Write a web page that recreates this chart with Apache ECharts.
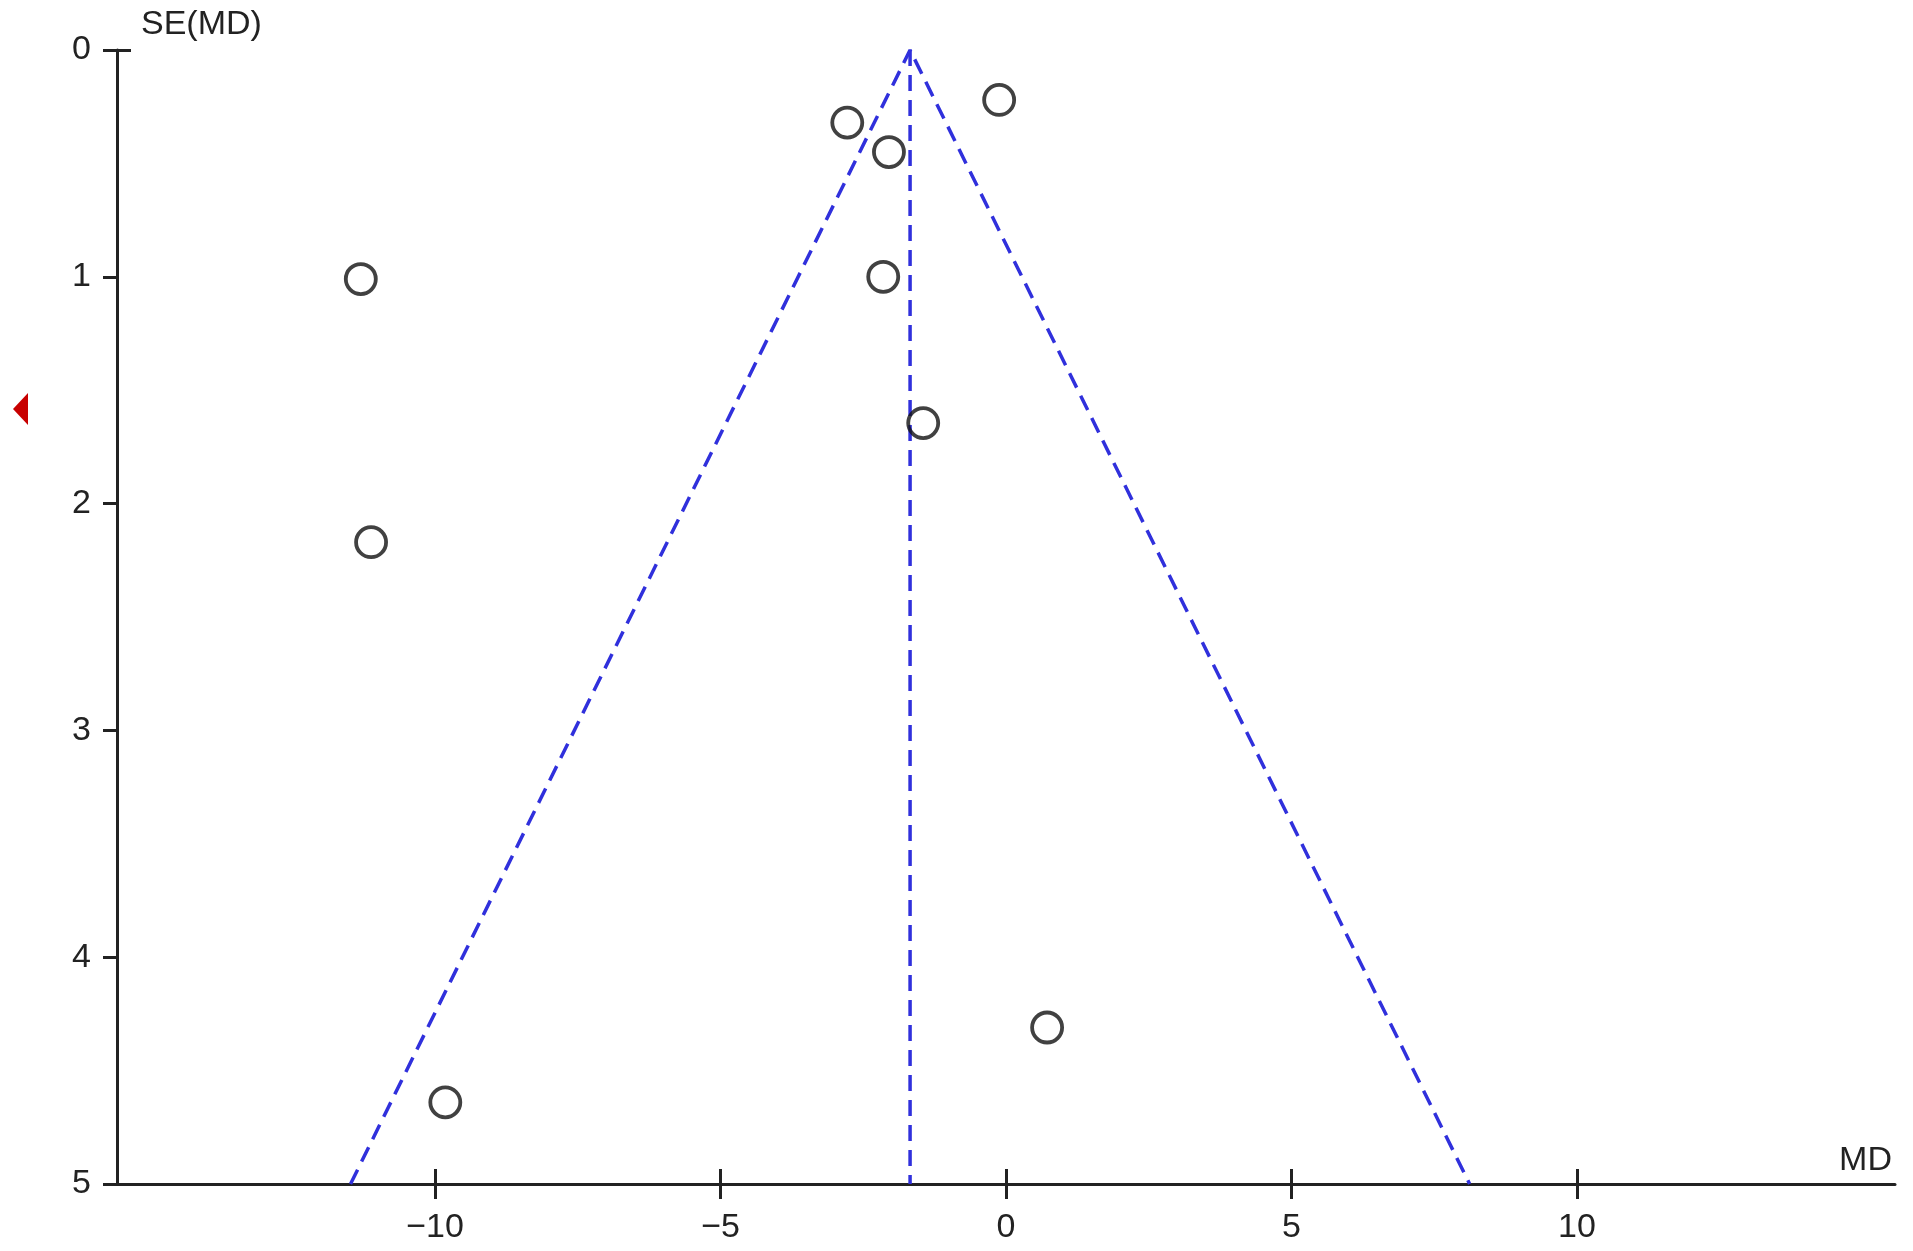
<!DOCTYPE html>
<html>
<head>
<meta charset="utf-8">
<script src="https://cdn.jsdelivr.net/npm/echarts@6/dist/echarts.min.js"></script>
<style>
  html, body { margin: 0; padding: 0; background: #fff; }
  #chart { width: 1913px; height: 1251px; }
</style>
</head>
<body>
<div id="chart"></div>
<script>
// study points: MD and SE(MD)
var studyMD = [-0.12, -2.78, -2.05, -11.30, -2.15, -1.45, -11.12, 0.72, -9.82];
var studySE = [0.22, 0.32, 0.45, 1.01, 1.00, 1.645, 2.17, 4.31, 4.64];
// pooled estimate and funnel (95% limits)
var pooledLine = [[-1.68, 0], [-1.68, 5]];
var funnelLine = [[-11.48, 5], [-1.68, 0], [8.12, 5]];
var xTicks = [-10, -5, 0, 5, 10];

var font = 'Liberation Sans, Arial, sans-serif';
var fs = 34;
var blue = '#3030dc';

var chart = echarts.init(document.getElementById('chart'));

var points = studyMD.map(function (x, i) { return [x, studySE[i]]; });

var xBase = {
    type: 'value',
    min: -15.57,
    max: 15.57,
    position: 'bottom',
    splitLine: { show: false }
};

chart.setOption({
    animation: false,
    grid: { left: 117, right: 18, top: 50, bottom: 67 },
    xAxis: [
        Object.assign({}, xBase, {
            name: 'MD',
            nameLocation: 'end',
            nameGap: -3,
            nameTextStyle: {
                fontFamily: font, fontSize: fs, color: '#222',
                align: 'right', verticalAlign: 'bottom', padding: [0, 0, 6, 0]
            },
            axisLine: { onZero: false, lineStyle: { color: '#222', width: 3 } },
            axisTick: { show: true, length: 15, lineStyle: { color: '#222', width: 3 }, customValues: xTicks },
            axisLabel: {
                fontFamily: font, fontSize: fs, color: '#222', margin: 27,
                customValues: xTicks,
                formatter: function (v) { return String(v).replace('-', '\u2212'); }
            }
        }),
        Object.assign({}, xBase, {
            axisLine: { show: false, onZero: false },
            axisTick: { show: true, inside: true, length: 15, lineStyle: { color: '#222', width: 3 }, customValues: xTicks },
            axisLabel: { show: false }
        })
    ],
    yAxis: [
        {
            type: 'value',
            inverse: true,
            min: 0,
            max: 5,
            interval: 1,
            position: 'left',
            name: 'SE(MD)',
            nameLocation: 'start',
            nameGap: 8,
            nameTextStyle: {
                fontFamily: font, fontSize: fs, color: '#222',
                align: 'left', verticalAlign: 'bottom', padding: [0, 0, 0, 24]
            },
            splitLine: { show: false },
            axisLine: { onZero: false, lineStyle: { color: '#222', width: 3 } },
            axisTick: { show: true, length: 14, lineStyle: { color: '#222', width: 3 } },
            axisLabel: { fontFamily: font, fontSize: fs, color: '#222', margin: 26 }
        },
        {
            type: 'value',
            inverse: true,
            min: 0,
            max: 5,
            position: 'left',
            splitLine: { show: false },
            axisLine: { show: false, onZero: false },
            axisTick: { show: true, inside: true, length: 14, lineStyle: { color: '#222', width: 3 }, customValues: [0] },
            axisLabel: { show: false }
        }
    ],
    series: [
        {
            type: 'line',
            data: funnelLine,
            symbol: 'none',
            lineStyle: { color: blue, width: 3.5, type: [16, 9] },
            z: 2
        },
        {
            type: 'line',
            data: pooledLine,
            symbol: 'none',
            lineStyle: { color: blue, width: 3.5, type: [16, 9] },
            z: 2
        },
        {
            type: 'scatter',
            data: points,
            symbol: 'circle',
            symbolSize: 30,
            itemStyle: { color: 'rgba(255,255,255,0)', borderColor: '#111', borderWidth: 3.8 },
            z: 3
        }
    ],
    graphic: [
        {
            type: 'polygon',
            shape: { points: [[13, 409], [28, 393], [28, 425]] },
            style: { fill: '#c80000' }
        }
    ]
});
</script>
</body>
</html>
